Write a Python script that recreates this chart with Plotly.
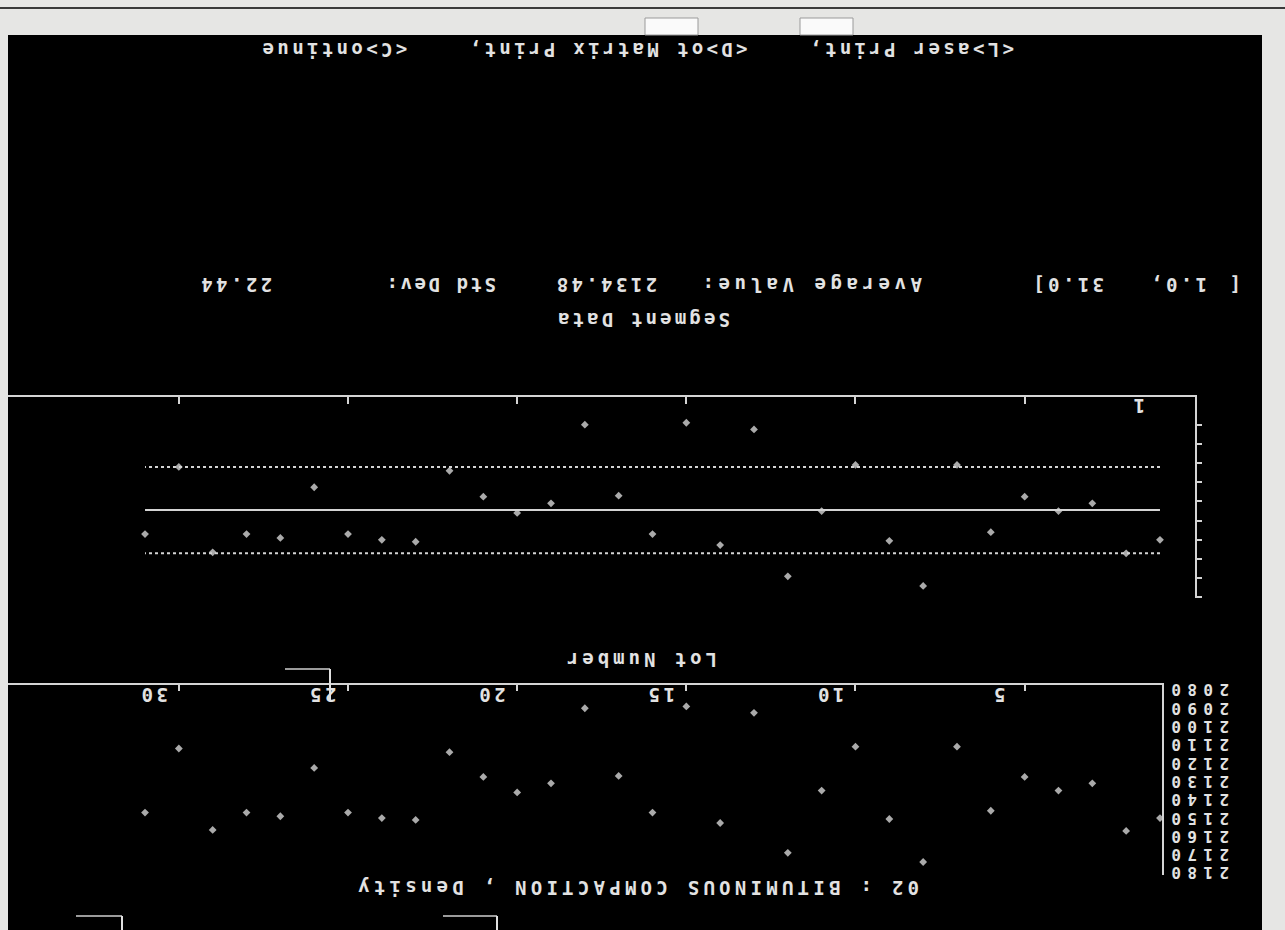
import plotly.graph_objects as go

W, H = 1285, 930

# ---------------- data ----------------
lots = list(range(1, 32))
density = [2150, 2157, 2131, 2135, 2127.5, 2146, 2111, 2174, 2150.5, 2111,
           2135, 2169, 2092.5, 2152.7, 2089, 2147, 2127, 2090, 2131, 2136,
           2127.5, 2114, 2151, 2150, 2147, 2122.6, 2149, 2147, 2156.5, 2112, 2147]
mean_value = 2134.48
std_dev = 22.44
segment = [1.0, 31.0]
x_tick_labels = [0, 5, 10, 15, 20, 25, 30]
y_tick_labels = [2080, 2090, 2100, 2110, 2120, 2130, 2140, 2150, 2160, 2170, 2180]
control_ticks = [2090, 2100, 2110, 2120, 2130, 2140, 2150, 2160, 2170, 2180]
title_text = "02 : BITUMINOUS COMPACTION , Density"
menu_text = "&lt;L&gt;aser Print,    &lt;D&gt;ot Matrix Print,    &lt;C&gt;ontinue"

TXT = "#e2e2e2"
LINE = "#d4d4d4"
PT = "#aaaaaa"
FONT = "DejaVu Sans Mono"
FSIZE = 19


def px(x):
    return x / W


def py(y):
    return 1 - y / H


fig = go.Figure()

# lower plot: raw density values
fig.add_trace(go.Scatter(x=lots, y=density, mode="markers", xaxis="x", yaxis="y",
                         marker=dict(symbol="diamond", size=6, color=PT), showlegend=False))
# upper plot: control chart
fig.add_trace(go.Scatter(x=lots, y=density, mode="markers", xaxis="x2", yaxis="y2",
                         marker=dict(symbol="diamond", size=6, color=PT), showlegend=False))
fig.add_trace(go.Scatter(x=[lots[0], lots[-1]], y=[mean_value, mean_value], mode="lines",
                         xaxis="x2", yaxis="y2", line=dict(color=LINE, width=2), showlegend=False))
for s in (-1, 1):
    v = mean_value + s * std_dev
    fig.add_trace(go.Scatter(x=[lots[0], lots[-1]], y=[v, v], mode="lines",
                             xaxis="x2", yaxis="y2",
                             line=dict(color=LINE, width=2, dash="3px,3px"), showlegend=False))

ax_common = dict(showgrid=False, zeroline=False, showline=True, linecolor=LINE, linewidth=2,
                 showticklabels=False, fixedrange=True)

fig.update_layout(
    width=W, height=H,
    margin=dict(l=0, r=0, t=0, b=0),
    paper_bgcolor="#e6e6e4",
    plot_bgcolor="rgba(0,0,0,0)",
    xaxis=dict(domain=[px(8), px(1162)], range=[35.05, 0.94], side="top", anchor="y",
               ticks="inside", tickvals=x_tick_labels[1:], ticklen=6, tickwidth=2,
               tickcolor=LINE, **ax_common),
    yaxis=dict(domain=[py(875), py(685)], range=[2181.1, 2077.3], side="right", anchor="x",
               ticks="", **ax_common),
    xaxis2=dict(domain=[px(8), px(1195)], range=[35.05, -0.035], side="top", anchor="y2",
                ticks="inside", tickvals=x_tick_labels[1:], ticklen=7, tickwidth=2,
                tickcolor=LINE, **ax_common),
    yaxis2=dict(domain=[py(598.4), py(397)], range=[2180.5, 2075.6], side="right", anchor="x2",
                ticks="outside", tickvals=control_ticks, ticklen=5, tickwidth=2,
                tickcolor=LINE, **ax_common),
)

shapes = [
    dict(type="rect", xref="paper", yref="paper", x0=px(8), x1=px(1262), y0=py(35), y1=py(931),
         fillcolor="#000000", line=dict(width=0), layer="below"),
    dict(type="line", xref="paper", yref="paper", x0=0, x1=1, y0=py(8), y1=py(8),
         line=dict(color="#3a3a3a", width=2), layer="below"),
    dict(type="rect", xref="paper", yref="paper", x0=px(645), x1=px(698), y0=py(18), y1=py(35),
         fillcolor="#fafafa", line=dict(color="#9a9a9a", width=1), layer="below"),
    dict(type="rect", xref="paper", yref="paper", x0=px(800), x1=px(853), y0=py(18), y1=py(35),
         fillcolor="#fafafa", line=dict(color="#9a9a9a", width=1), layer="below"),
]
for (x0, x1, y0, y1) in [(285, 330, 669, 700), (76, 122, 916, 931), (443, 497, 916, 931)]:
    shapes.append(dict(type="line", xref="paper", yref="paper", x0=px(x0), x1=px(x1),
                       y0=py(y0), y1=py(y0), line=dict(color="#cfcfcf", width=1.5)))
    shapes.append(dict(type="line", xref="paper", yref="paper", x0=px(x1), x1=px(x1),
                       y0=py(y0), y1=py(y1), line=dict(color="#e0e0e0", width=2)))
fig.update_layout(shapes=shapes)

ann = []


def label(s, x, y, xref="paper", yref="paper", cw=14.8, size=FSIZE, **extra):
    spacing = cw - 0.602 * size
    ann.append(dict(text=f'<b><span style="letter-spacing:{spacing:.2f}px">{s}</span></b>',
                    x=x, y=y, xref=xref, yref=yref, textangle=180,
                    xanchor="center", yanchor="middle", showarrow=False,
                    font=dict(family=FONT, size=size, color=TXT), **extra))


label(menu_text, px(637), py(50))
label("[", px(1234), py(285))
label(f"{segment[0]:.1f},", px(1178), py(285))
label(f"{segment[1]:.1f}]", px(1067), py(285))
label("Average Value:", px(810), py(285), cw=16.0)
label(f"{mean_value:.2f}", px(605), py(285))
label("Std Dev:", px(440), py(285), cw=14.0)
label(f"{std_dev:.2f}", px(235), py(285))
label("Segment Data", px(643), py(320), cw=14.6)
label("Lot Number", px(640), py(660), cw=15.4)
label(title_text, px(637), py(888), cw=15.7)
label("1", px(1138), py(406))

for v in x_tick_labels:
    label(str(v), v + 0.78, py(695), xref="x")
for v in y_tick_labels:
    label(str(v), px(1197), v, yref="y", cw=16.0, size=16, height=16, borderpad=0)

fig.update_layout(annotations=ann)

fig.write_html("out.html", config={"displayModeBar": False},
               post_script="document.body.style.margin='0';document.body.style.overflow='hidden';")
